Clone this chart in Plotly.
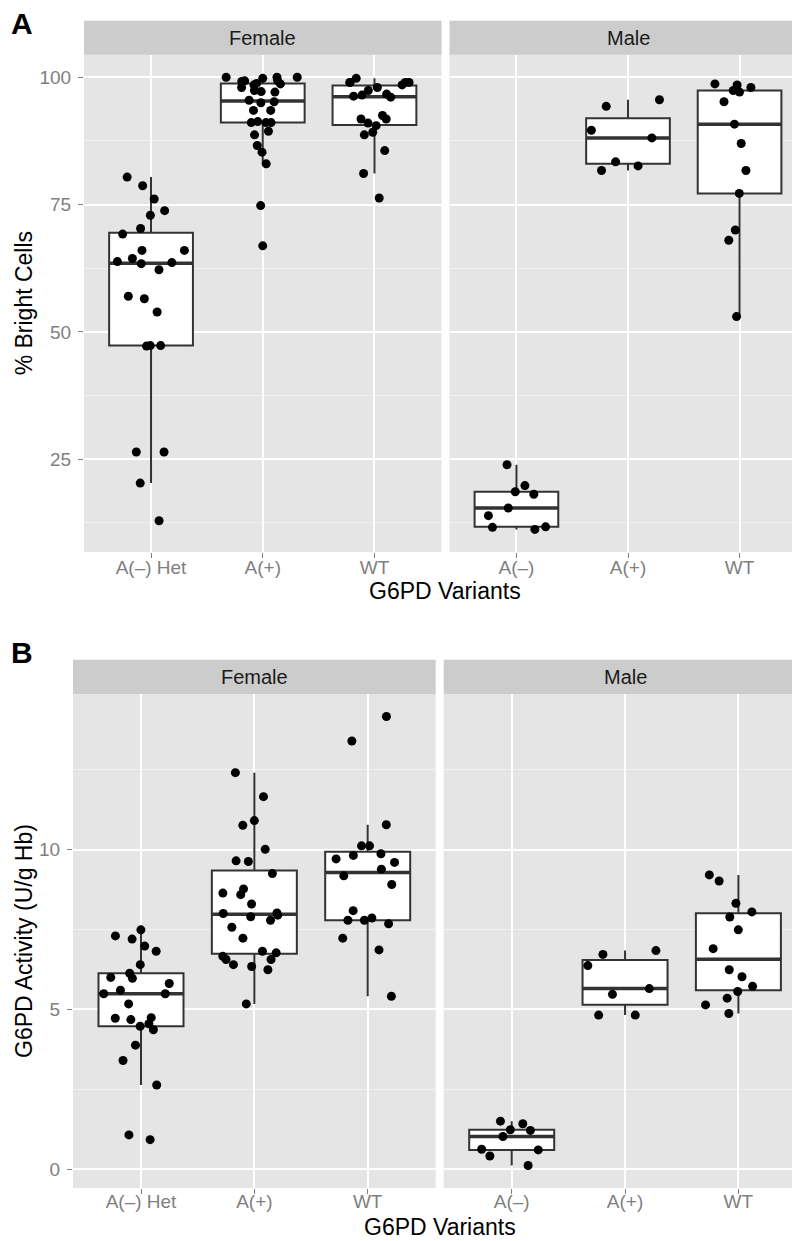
import numpy as np
import plotly.graph_objects as go

W, H = 800, 1241

# ---------------- data ----------------
facets = ["Female", "Male"]
cats_female = ["A(–) Het", "A(+)", "WT"]
cats_male = ["A(–)", "A(+)", "WT"]

# Panel A: % Bright Cells
A_female_AHet = [80.4, 78.7, 76.1, 73.8, 72.9, 70.3, 69.2, 66.0, 66.0, 64.4, 63.8, 63.6,
                 62.2, 63.4, 57.0, 56.5, 53.9, 47.3, 47.3, 47.2, 26.4, 26.4, 20.3, 12.9]
A_female_Aplus = [100, 100, 99.8, 100, 99.3, 99.3, 99.2, 98.8, 98.5, 98.0, 98.7, 97.4, 97.2,
                  97.1, 95.5, 95.2, 95.0, 93.5, 93.5, 91.3, 91.1, 91.1, 91.1, 89.4, 88.7,
                  86.6, 85.3, 83.0, 74.8, 66.9]
A_female_WT = [99.0, 99.0, 99.0, 99.8, 99.0, 98.5, 98.0, 97.4, 96.7, 96.5, 96.1, 96.3, 92.5,
               91.8, 91.8, 91.0, 90.5, 89.2, 88.7, 85.6, 81.1, 76.3]
A_male_Aminus = [23.9, 19.8, 18.6, 18.1, 15.4, 13.9, 11.7, 11.6, 11.2]
A_male_Aplus = [95.6, 94.3, 89.6, 88.1, 83.4, 82.6, 81.7]
A_male_WT = [98.7, 98.5, 98.0, 97.4, 97.1, 95.2, 90.8, 87.0, 81.7, 77.2, 70.0, 68.0, 53.0]
A_yticks = [25, 50, 75, 100]

# Panel B: G6PD Activity (U/g Hb)
B_female_AHet = [7.49, 7.30, 7.20, 6.98, 6.82, 6.40, 6.13, 6.00, 5.97, 5.81, 5.60, 5.49, 5.49,
                 5.17, 4.74, 4.72, 4.68, 4.55, 4.47, 4.36, 3.88, 3.40, 2.63, 1.07, 0.92]
B_female_Aplus = [12.41, 11.66, 10.91, 10.76, 10.01, 9.65, 9.63, 9.25, 8.77, 8.64, 8.59, 8.30,
                  8.02, 8.00, 7.95, 7.90, 7.79, 7.57, 7.23, 6.82, 6.77, 6.66, 6.56, 6.56, 6.40,
                  6.34, 6.24, 5.17]
B_female_WT = [14.17, 13.40, 10.78, 10.12, 10.12, 9.87, 9.82, 9.71, 9.60, 9.39, 9.18, 8.91, 8.09,
               7.86, 7.79, 7.79, 7.68, 7.23, 6.86, 5.41]
B_male_Aminus = [1.50, 1.42, 1.23, 1.21, 1.02, 0.62, 0.60, 0.41, 0.11]
B_male_Aplus = [6.84, 6.72, 6.37, 5.65, 5.47, 4.82, 4.82]
B_male_WT = [9.21, 9.02, 8.32, 8.05, 7.89, 7.49, 6.90, 6.24, 6.02, 5.72, 5.56, 5.35, 5.14, 4.87]
B_yticks = [0, 5, 10]

# ---------------- layout helpers ----------------
FONT = "Liberation Sans, Arial, Helvetica, sans-serif"
TICK_COLOR = "#7f7f7f"
TICK_SIZE = 19
STRIP_SIZE = 20
TITLE_SIZE = 23


def px_x(p):
    return p / W


def px_y(p):
    return 1 - p / H


panels = [
    dict(ax="x", ay="y", x0=76, x1=433.5, y0=46.7, y1=544, cats=cats_female,
         groups=[A_female_AHet, A_female_Aplus, A_female_WT], facet=facets[0], strip0=12.7, row="A"),
    dict(ax="x2", ay="y2", x0=441.5, x1=798.5, y0=46.7, y1=544, cats=cats_male,
         groups=[A_male_Aminus, A_male_Aplus, A_male_WT], facet=facets[1], strip0=12.7, row="A"),
    dict(ax="x3", ay="y3", x0=65, x1=427.7, y0=686, y1=1180, cats=cats_female,
         groups=[B_female_AHet, B_female_Aplus, B_female_WT], facet=facets[0], strip0=651.7, row="B"),
    dict(ax="x4", ay="y4", x0=435.7, x1=798.4, y0=686, y1=1180, cats=cats_male,
         groups=[B_male_Aminus, B_male_Aplus, B_male_WT], facet=facets[1], strip0=651.7, row="B"),
]


def stats(v):
    v = np.asarray(v, dtype=float)
    q1, med, q3 = np.percentile(v, [25, 50, 75])
    iqr = q3 - q1
    lf = v[v >= q1 - 1.5 * iqr].min()
    uf = v[v <= q3 + 1.5 * iqr].max()
    return q1, med, q3, lf, uf


def yrange(groups_list):
    allv = np.concatenate([np.asarray(g, dtype=float) for gs in groups_list for g in gs])
    lo, hi = allv.min(), allv.max()
    pad = 0.05 * (hi - lo)
    return [lo - pad, hi + pad]


rangeA = yrange([panels[0]["groups"], panels[1]["groups"]])
rangeB = yrange([panels[2]["groups"], panels[3]["groups"]])

fig = go.Figure()
BOX_W = 0.75

for p in panels:
    st = [stats(g) for g in p["groups"]]
    q1 = [s[0] for s in st]
    med = [s[1] for s in st]
    q3 = [s[2] for s in st]
    lf = [s[3] for s in st]
    uf = [s[4] for s in st]
    fig.add_trace(go.Box(
        x=p["cats"], q1=q1, median=med, q3=q3, lowerfence=lf, upperfence=uf,
        xaxis=p["ax"], yaxis=p["ay"], boxpoints=False, width=BOX_W, whiskerwidth=0,
        fillcolor="white", line=dict(color="#333333", width=2), hoverinfo="skip",
    ))
    fig.add_trace(go.Box(
        x=p["cats"], q1=med, median=med, q3=med, lowerfence=med, upperfence=med,
        xaxis=p["ax"], yaxis=p["ay"], boxpoints=False, width=BOX_W, whiskerwidth=0,
        fillcolor="rgba(0,0,0,0)", line=dict(color="#333333", width=3.5), hoverinfo="skip",
    ))
    xs, ys = [], []
    for c, g in zip(p["cats"], p["groups"]):
        xs += [c] * len(g)
        ys += list(g)
    fig.add_trace(go.Box(
        x=xs, y=ys, xaxis=p["ax"], yaxis=p["ay"], boxpoints="all", jitter=0.9, pointpos=0,
        width=BOX_W, whiskerwidth=0, fillcolor="rgba(0,0,0,0)",
        line=dict(color="rgba(0,0,0,0)", width=0),
        marker=dict(color="black", size=9, line=dict(width=0)), hoverinfo="skip",
    ))

layout = dict(
    width=W, height=H, margin=dict(l=0, r=0, t=0, b=0),
    paper_bgcolor="white", plot_bgcolor="#e5e5e5", showlegend=False,
    boxmode="overlay", font=dict(family=FONT),
)

shapes = []
annotations = []

for p in panels:
    xkey = "xaxis" if p["ax"] == "x" else "xaxis" + p["ax"][1:]
    ykey = "yaxis" if p["ay"] == "y" else "yaxis" + p["ay"][1:]
    rng = rangeA if p["row"] == "A" else rangeB
    yt = A_yticks if p["row"] == "A" else B_yticks
    step = yt[1] - yt[0]
    minor_vals = [t - step / 2 for t in yt] + [yt[-1] + step / 2]
    left = p["x0"] < 100
    layout[xkey] = dict(
        domain=[px_x(p["x0"]), px_x(p["x1"])], anchor=p["ay"], type="category",
        categoryorder="array", categoryarray=p["cats"], range=[-0.6, 2.6],
        showgrid=True, gridcolor="white", gridwidth=1.6, zeroline=False, showline=False,
        ticks="outside", ticklen=5, tickwidth=1, tickcolor=TICK_COLOR,
        tickfont=dict(size=TICK_SIZE, color=TICK_COLOR, family=FONT),
        ticklabelstandoff=-7 if p["row"] == "A" else -9,
        fixedrange=True,
    )
    layout[ykey] = dict(
        domain=[px_y(p["y1"]), px_y(p["y0"])], anchor=p["ax"], range=rng,
        tickvals=yt, ticktext=[str(t) for t in yt],
        showgrid=True, gridcolor="white", gridwidth=1.6, zeroline=False, showline=False,
        minor=dict(tickvals=minor_vals, showgrid=True, gridcolor="#f2f2f2", gridwidth=1, ticks=""),
        ticks="outside" if left else "", ticklen=5, tickwidth=1, tickcolor=TICK_COLOR,
        showticklabels=left, tickfont=dict(size=TICK_SIZE, color=TICK_COLOR, family=FONT),
        ticklabelstandoff=3, fixedrange=True,
    )
    shapes.append(dict(type="rect", xref="paper", yref="paper",
                       x0=px_x(p["x0"]), x1=px_x(p["x1"]), y0=px_y(p["y0"]), y1=px_y(p["strip0"]),
                       fillcolor="#cccccc", line=dict(width=0), layer="below"))
    annotations.append(dict(text=p["facet"], xref="paper", yref="paper",
                            x=px_x((p["x0"] + p["x1"]) / 2), y=px_y((p["y0"] + p["strip0"]) / 2),
                            xanchor="center", yanchor="middle", showarrow=False,
                            font=dict(size=STRIP_SIZE, color="#1a1a1a", family=FONT)))

# axis titles
titles = {
    "A": dict(ya0=46.7, ya1=544, xl=76, xr=798.5, xt_y=583, ytitle="% Bright Cells"),
    "B": dict(ya0=686, ya1=1180, xl=65, xr=798.4, xt_y=1219, ytitle="G6PD Activity (U/g Hb)"),
}
for row, t in titles.items():
    annotations.append(dict(text="G6PD Variants", xref="paper", yref="paper",
                            x=px_x((t["xl"] + t["xr"]) / 2), y=px_y(t["xt_y"]),
                            xanchor="center", yanchor="middle", showarrow=False,
                            font=dict(size=TITLE_SIZE, color="black", family=FONT)))
    annotations.append(dict(text=t["ytitle"], xref="paper", yref="paper", textangle=-90,
                            x=px_x(16), y=px_y((t["ya0"] + t["ya1"]) / 2),
                            xanchor="center", yanchor="middle",
                            showarrow=False, font=dict(size=TITLE_SIZE, color="black", family=FONT)))

annotations.append(dict(text="<b>A</b>", xref="paper", yref="paper", x=px_x(14), y=px_y(15),
                        xanchor="center", yanchor="middle", showarrow=False,
                        font=dict(size=30, color="black", family=FONT)))
annotations.append(dict(text="<b>B</b>", xref="paper", yref="paper", x=px_x(14), y=px_y(644),
                        xanchor="center", yanchor="middle", showarrow=False,
                        font=dict(size=30, color="black", family=FONT)))

layout["shapes"] = shapes
layout["annotations"] = annotations
fig.update_layout(**layout)

fig.write_html("out.html")
